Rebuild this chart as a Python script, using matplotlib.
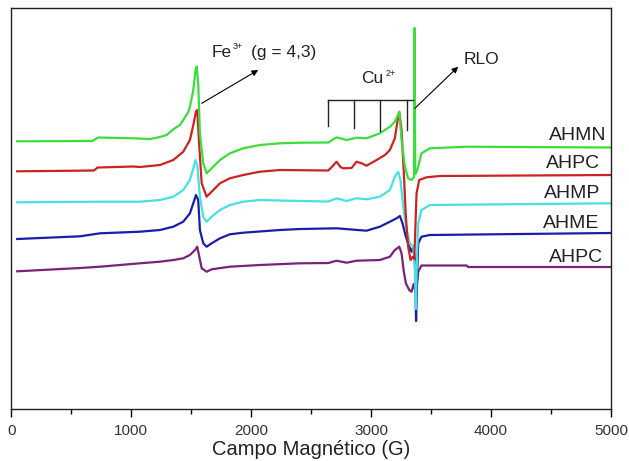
import numpy as np
import matplotlib
matplotlib.use('Agg')
import matplotlib.pyplot as plt
from matplotlib.ticker import MultipleLocator

plt.rcParams['font.family'] = ['Liberation Sans', 'DejaVu Sans']

# campo magnetico (G) e intensidade (u.a.)
ahmn_B = [50, 675, 725, 1017, 1157, 1240, 1296, 1351, 1407, 1434, 1476, 1490, 1518, 1537, 1546, 1559,
          1573, 1601, 1629, 1671, 1740, 1823, 1934, 2073, 2240, 2407, 2645, 2712, 2796, 2879, 2962,
          3073, 3157, 3198, 3220, 3235, 3254, 3282, 3309, 3337, 3358, 3363, 3368, 3379, 3393, 3420,
          3490, 3796, 5000]
ahmn_I = [267.7, 268, 271.5, 270.7, 270, 272, 274, 279.7, 284, 289, 297, 302.3, 319, 339, 342.5, 325.7,
          275.7, 245.7, 235.7, 240.7, 249, 255.7, 260.7, 264, 265.7, 266.3, 266.5, 271.7, 269, 271.3,
          270.7, 275.7, 282.3, 287.3, 293, 297.3, 269, 242.3, 230.7, 229, 232, 381, 235, 237, 242.3,
          255.7, 260.7, 262.3, 261.5]

ahpc1_B = [50, 690, 720, 1017, 1073, 1240, 1351, 1434, 1490, 1518, 1540, 1551, 1568, 1588, 1629, 1671,
           1740, 1823, 1934, 2073, 2240, 2407, 2643, 2680, 2712, 2745, 2768, 2837, 2879, 2921, 2962,
           3046, 3115, 3157, 3198, 3220, 3235, 3254, 3273, 3290, 3309, 3329, 3345, 3360, 3379, 3401,
           3462, 3573, 5000]
ahpc1_I = [237.7, 238.5, 241.5, 242.5, 242, 244, 249, 257.3, 269, 284, 297.3, 299, 262.3, 225.7, 212.3,
           217.3, 225.7, 230.7, 234, 237.3, 239, 238.8, 238.5, 243, 247.3, 242, 240.7, 241, 247.3,
           245.7, 243.3, 249, 254, 259, 270.7, 288, 297, 279, 235.7, 192.3, 162.3, 149, 152, 150,
           215.7, 229, 231.7, 233, 234]

ahmp_B = [50, 740, 1073, 1240, 1351, 1434, 1490, 1518, 1537, 1551, 1573, 1601, 1629, 1671, 1740, 1823,
          1934, 2073, 2407, 2643, 2712, 2796, 2879, 2962, 3073, 3157, 3198, 3226, 3245, 3268, 3296,
          3323, 3351, 3365, 3373, 3382, 3393, 3420, 3490, 5000]
ahmp_I = [206.7, 207.3, 207.3, 209, 212.3, 219, 229, 240.7, 249, 244, 212.3, 192.3, 187.3, 192.3, 199,
          204, 207.3, 209, 208, 207.5, 210.7, 208, 210.7, 209.7, 212.3, 219, 232.3, 237.3, 229, 202.3,
          179, 165.7, 162.3, 140, 100, 150, 185.7, 199, 204, 205.7]

ahme_B = [50, 574, 740, 1073, 1240, 1351, 1434, 1490, 1518, 1540, 1559, 1573, 1601, 1629, 1671, 1740,
          1823, 1934, 2240, 2407, 2712, 2962, 3073, 3157, 3212, 3240, 3262, 3290, 3318, 3337, 3351,
          3365, 3375, 3385, 3393, 3420, 3490, 5000]
ahme_I = [170, 172.7, 175.7, 177.3, 179, 182.3, 187.3, 195.7, 205.7, 214, 209, 179, 165.7, 162.3, 165.7,
          170.7, 174.7, 176.3, 179, 180, 180.7, 178.3, 182.3, 187.3, 190.7, 193, 185.7, 172.3, 162.3,
          157.3, 162.3, 150, 88, 140, 165.7, 172.3, 174, 176]

ahpc2_B = [50, 574, 740, 1073, 1240, 1351, 1434, 1490, 1532, 1551, 1568, 1588, 1629, 1671, 1823, 2073,
           2407, 2645, 2712, 2796, 2879, 3073, 3157, 3198, 3235, 3254, 3273, 3290, 3318, 3337, 3355,
           3375, 3393, 3420, 3796, 3810, 5000]
ahpc2_I = [137.7, 141, 142.3, 145.7, 147.3, 149, 150.7, 154, 159, 162.3, 152.3, 140.7, 137.3, 139.7,
           142.3, 144, 145.7, 146, 148.3, 146.3, 148.3, 149, 152.3, 159, 162.3, 155.7, 137.3, 125.7,
           119, 117.3, 125, 115, 137.3, 143.5, 143.5, 142, 142]

amostras = ['AHMN', 'AHPC', 'AHMP', 'AHME', 'AHPC']
rotulo_B = [4482, 4457, 4440, 4432, 4482]
rotulo_I = [274, 246, 215.7, 186, 152]

cu_linhas_B = [2645, 2856, 3073, 3303]
cu_linhas_I = [282.7, 281, 277.7, 279.3]

fig = plt.figure(figsize=(6.29, 4.61), dpi=100)
ax = fig.add_axes([0.0178, 0.1128, 0.9536, 0.8709])

ax.plot(ahpc2_B, ahpc2_I, color='#7b2277', lw=1.6)
ax.plot(ahme_B, ahme_I, color='#1c1caa', lw=1.6)
ax.plot(ahmp_B, ahmp_I, color='#48e0e0', lw=1.6)
ax.plot(ahpc1_B, ahpc1_I, color='#cc2222', lw=1.6)
ax.plot(ahmn_B, ahmn_I, color='#3ddc3d', lw=1.6)

for nome, b, i in zip(amostras, rotulo_B, rotulo_I):
    ax.text(b, i, nome, fontsize=14, color='#222222', va='center', ha='left', clip_on=False)

# barras do Cu2+
ax.plot([2645, 3347], [308.7, 308.7], color='#222222', lw=1.0)
for b, i in zip(cu_linhas_B, cu_linhas_I):
    ax.plot([b, b], [308.7, i], color='#222222', lw=1.0)

cor_txt = '#222222'
ax.text(2921, 330.7, 'Cu', fontsize=12.5, color=cor_txt, va='center', ha='left')
ax.text(3122, 336, '2+', fontsize=6.5, color=cor_txt, va='center', ha='left')
ax.text(1671, 357, 'Fe', fontsize=12.5, color=cor_txt, va='center', ha='left')
ax.text(1850, 362.5, '3+', fontsize=6.5, color=cor_txt, va='center', ha='left')
ax.text(1995, 357, '(g = 4,3)', fontsize=12.5, color=cor_txt, va='center', ha='left')
ax.text(3768, 350, 'RLO', fontsize=12.5, color=cor_txt, va='center', ha='left')

seta = dict(arrowstyle='-|>', lw=0.8, color='black', mutation_scale=9, shrinkA=0, shrinkB=0)
ax.annotate('', xy=(2059, 339), xytext=(1588, 305.7), arrowprops=seta)
ax.annotate('', xy=(3726, 342.3), xytext=(3365, 300.7), arrowprops=seta)

ax.set_xlim(0, 5000)
ax.set_ylim(0, 401.5)
ax.xaxis.set_major_locator(MultipleLocator(1000))
ax.xaxis.set_minor_locator(MultipleLocator(500))
ax.set_yticks([])
ax.tick_params(axis='x', which='major', direction='out', length=6, width=1, pad=5,
               labelsize=11, labelcolor='#333333')
ax.tick_params(axis='x', which='minor', direction='out', length=3.5, width=1)
for s in ax.spines.values():
    s.set_linewidth(1.0)
    s.set_color('#222222')

ax.set_xlabel('Campo Magnético (G)', fontsize=14.5, color='#222222', labelpad=1)

plt.savefig('out.png', dpi=100)
